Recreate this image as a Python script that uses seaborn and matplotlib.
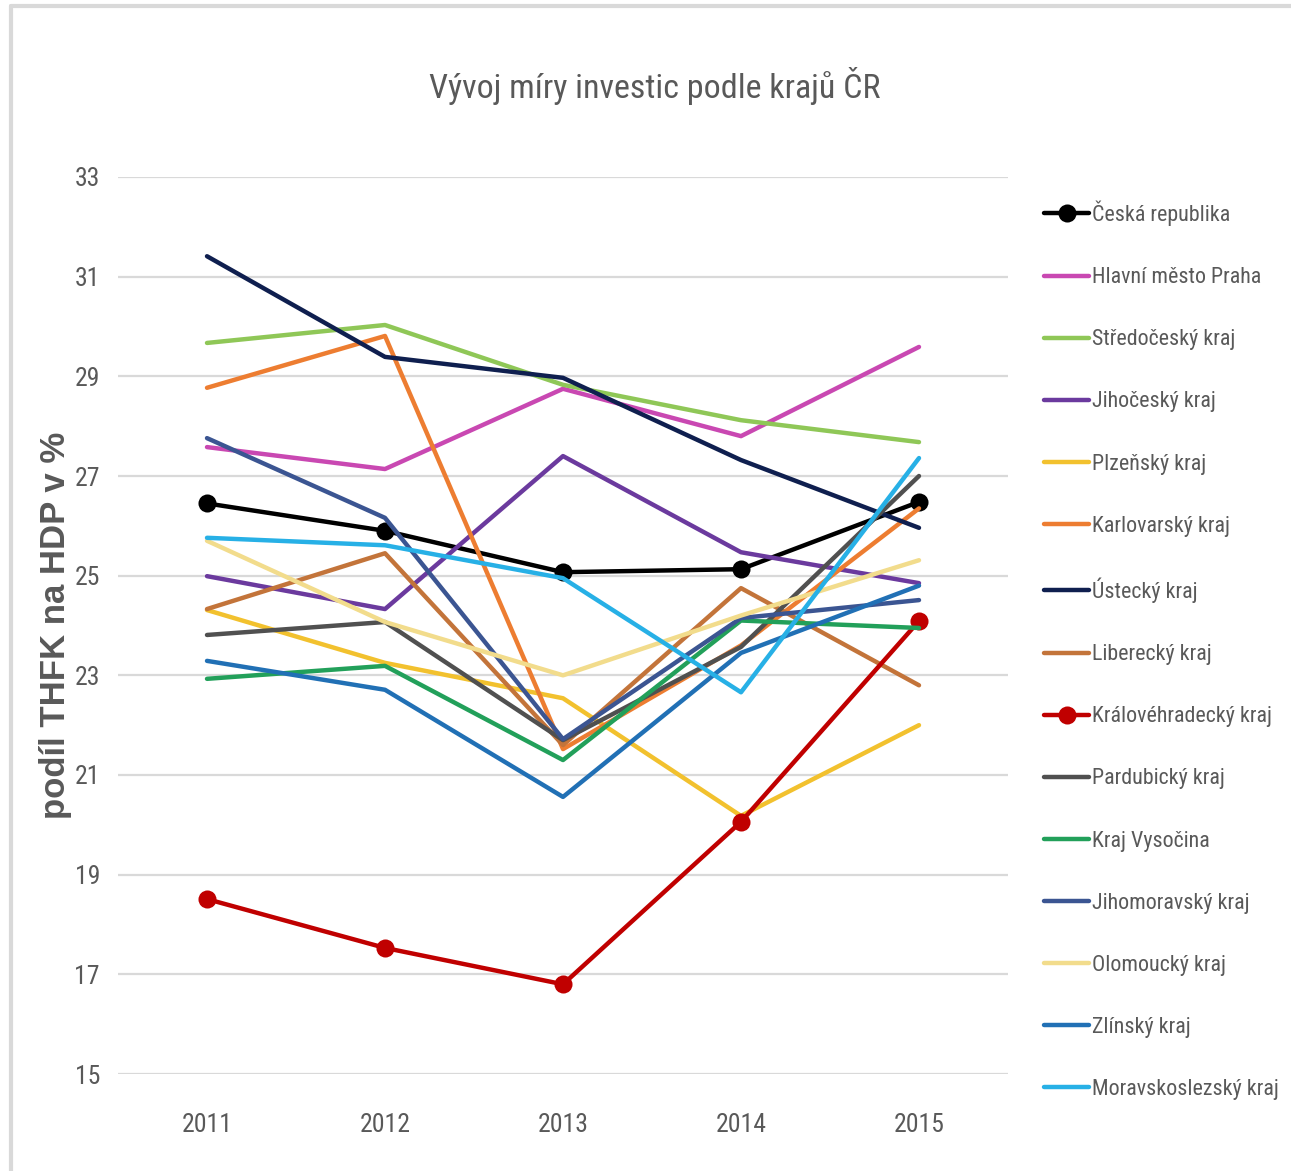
import matplotlib
matplotlib.use("Agg")
import matplotlib.pyplot as plt
from matplotlib import font_manager
from matplotlib.font_manager import FontProperties
from matplotlib.lines import Line2D
from matplotlib.textpath import TextPath
import seaborn as sns
import pandas as pd

# values (podíl THFK na HDP v %)
years = [2011, 2012, 2013, 2014, 2015]
ceska_republika = [26.45, 25.90, 25.07, 25.13, 26.48]
praha = [27.58, 27.14, 28.75, 27.80, 29.59]
stredocesky = [29.67, 30.03, 28.83, 28.12, 27.68]
jihocesky = [24.99, 24.33, 27.40, 25.47, 24.85]
plzensky = [24.31, 23.25, 22.54, 20.18, 22.00]
karlovarsky = [28.77, 29.81, 21.52, 23.60, 26.35]
ustecky = [31.41, 29.39, 28.97, 27.32, 25.96]
liberecky = [24.33, 25.45, 21.60, 24.75, 22.80]
kralovehradecky = [18.51, 17.53, 16.80, 20.06, 24.09]
pardubicky = [23.81, 24.07, 21.70, 23.57, 27.00]
vysocina = [22.93, 23.19, 21.30, 24.10, 23.95]
jihomoravsky = [27.76, 26.16, 21.72, 24.15, 24.51]
olomoucky = [25.70, 24.07, 23.00, 24.20, 25.31]
zlinsky = [23.29, 22.71, 20.56, 23.45, 24.80]
moravskoslezsky = [25.76, 25.61, 24.95, 22.66, 27.36]

series = [
    ("Česká republika", ceska_republika, "#000000", True),
    ("Hlavní město Praha", praha, "#C948B2", False),
    ("Středočeský kraj", stredocesky, "#8FC757", False),
    ("Jihočeský kraj", jihocesky, "#6B3A9E", False),
    ("Plzeňský kraj", plzensky, "#F2C12E", False),
    ("Karlovarský kraj", karlovarsky, "#ED7D31", False),
    ("Ústecký kraj", ustecky, "#0F1F4F", False),
    ("Liberecký kraj", liberecky, "#C3743A", False),
    ("Královéhradecký kraj", kralovehradecky, "#C00000", True),
    ("Pardubický kraj", pardubicky, "#505050", False),
    ("Kraj Vysočina", vysocina, "#22A05A", False),
    ("Jihomoravský kraj", jihomoravsky, "#3B5592", False),
    ("Olomoucký kraj", olomoucky, "#F2DC8C", False),
    ("Zlínský kraj", zlinsky, "#2170B5", False),
    ("Moravskoslezský kraj", moravskoslezsky, "#27B0E6", False),
]

TEXT = "#595959"
W, H = 1291, 1171
DPI = 100


def find_narrow_font():
    """Look for an installed condensed regular face, the original uses Calibri Light."""
    fonts = [f for f in font_manager.fontManager.ttflist
             if f.style == "normal" and f.weight in (300, 350, 400, "normal", "light")]
    prefer = ["Liberation Sans Narrow", "Roboto Condensed", "Open Sans Condensed",
              "Noto Sans", "Open Sans", "Roboto", "DejaVu Sans"]
    for fam in prefer:
        for f in fonts:
            narrow = ("Narrow" in f.name or "Condensed" in f.name
                      or "condensed" in str(f.stretch) or "Condensed" in f.fname)
            if fam in f.name and narrow and "Extra" not in f.fname and "Semi" not in f.fname:
                return f.fname
    for f in fonts:
        if "condensed" in str(f.stretch) or "Narrow" in f.name:
            return f.fname
    return None


def fitted(fname, text, target_px, family="Open Sans", weight="normal"):
    """Font size so that the text is about target_px wide."""
    fp = FontProperties(fname=fname, size=20) if fname else FontProperties(family=family, size=20, weight=weight)
    width = TextPath((0, 0), text, prop=fp).get_extents().width * DPI / 72
    fp.set_size(20 * target_px / width)
    return fp


sns.set_theme(style="white")
plt.rcParams["font.family"] = ["Open Sans", "DejaVu Sans"]
narrow_path = find_narrow_font()

fig = plt.figure(figsize=(W / DPI, H / DPI), dpi=DPI)
ax = fig.add_axes([118 / W, 1 - 1074 / H, (1008 - 118) / W, (1074 - 177) / H])

for name, vals, color, marked in series:
    df = pd.DataFrame({"rok": years, "hodnota": vals})
    sns.lineplot(data=df, x="rok", y="hodnota", ax=ax, color=color, linewidth=3.2,
                 marker="o" if marked else None, markersize=13, markeredgewidth=0,
                 label=name, legend=False)

ax.set_xlim(2010.5, 2015.5)
ax.set_ylim(15, 33)
ax.set_xticks(years)
ax.set_yticks(range(15, 34, 2))
ax.grid(axis="y", color="#D9D9D9", linewidth=1.6)
ax.set_axisbelow(True)
for s in ax.spines.values():
    s.set_visible(False)
ax.tick_params(axis="both", length=0, labelcolor=TEXT)
ax.tick_params(axis="x", pad=28)
ax.tick_params(axis="y", pad=13)
ax.set_xlabel("")
ax.set_ylabel("")

tick_fp = fitted(narrow_path, "2011", 45)
for lab in ax.get_xticklabels() + ax.get_yticklabels():
    lab.set_fontproperties(tick_fp)

ylab_fp = FontProperties(family=["Liberation Sans", "DejaVu Sans"], weight="bold", size=25)
fig.text(56 / W, 1 - 625 / H, "podíl THFK na HDP v %", rotation=90, ha="center", va="center",
         fontproperties=ylab_fp, color=TEXT)

title = "Vývoj míry investic podle krajů ČR"
title_fp = fitted(narrow_path, title, 450)
fig.text(655 / W, 1 - 86 / H, title, ha="center", va="center", fontproperties=title_fp, color=TEXT)

leg_fp = fitted(narrow_path, "Moravskoslezský kraj", 184)
fpx = leg_fp.get_size() * DPI / 72
handles = [Line2D([], [], color=c, linewidth=3.2, marker="o" if m else None,
                  markersize=13, markeredgewidth=0) for _, _, c, m in series]
labels = [n for n, _, _, _ in series]
fig.legend(handles, labels, loc="upper left",
           bbox_to_anchor=(1044 / W, 1 - (213 - 0.56 * fpx) / H),
           frameon=False, prop=leg_fp, labelcolor=TEXT, handlelength=45 / fpx,
           handletextpad=3 / fpx, labelspacing=63.6 / fpx - 1.02, borderpad=0, borderaxespad=0)

# light frame of the original screenshot
fig.add_artist(Line2D([11 / W, 1], [1 - 6 / H, 1 - 6 / H], color="#D9D9D9", linewidth=3))
fig.add_artist(Line2D([11 / W, 11 / W], [0, 1 - 6 / H], color="#D9D9D9", linewidth=3))

fig.savefig("out.png", dpi=DPI)
plt.close(fig)
